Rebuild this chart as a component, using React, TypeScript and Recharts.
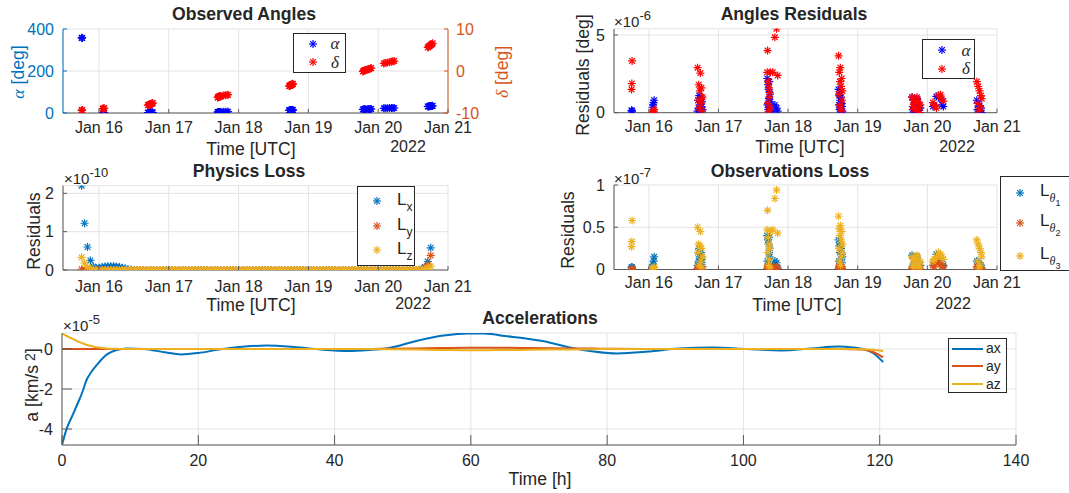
import React from "react";
import { ScatterChart, Scatter, LineChart, Line, XAxis, YAxis, CartesianGrid } from "recharts";

const BLUE = "#0072BD";
const ORANGE = "#D95319";
const YELLOW = "#EDB120";
const PURE_BLUE = "#0000FF";
const PURE_RED = "#FF0000";
const TXT = "#262626";
const AXC = "#5a5a5a";
const GRID = "#e3e3e3";
const FONT = "'Liberation Sans', Arial, Helvetica, sans-serif";
const TEX = "'Liberation Serif', 'DejaVu Serif', serif";

// time axis of the upper plots: days since 15 Jan 2022 00:00 UTC
const dayTicks = [1, 2, 3, 4, 5, 6];
const dayLabels = ["Jan 16", "Jan 17", "Jan 18", "Jan 19", "Jan 20", "Jan 21"];

// observation epochs, one block per pass
const obsTime = [
  0.752, 0.756, 0.76,
  1.055, 1.062, 1.069, 1.076,
  1.7, 1.708, 1.716, 1.724, 1.732, 1.74, 1.748, 1.756, 1.764, 1.772,
  2.7, 2.705, 2.71, 2.715, 2.72, 2.725, 2.73, 2.735, 2.74, 2.745, 2.78, 2.81, 2.835, 2.85,
  3.725, 3.73, 3.735, 3.74, 3.745, 3.75, 3.755, 3.76, 3.765, 3.77, 3.775, 3.78,
  4.78, 4.79, 4.8, 4.81, 4.82, 4.85, 4.86, 4.87, 4.89, 4.9,
  5.08, 5.1, 5.13, 5.16, 5.19, 5.21, 5.23,
  5.71, 5.72, 5.73, 5.74, 5.75, 5.76, 5.77, 5.78,
];
// observed right ascension [deg]
const obsAlpha = [
  358, 357.5, 357,
  0.2, 0.4, 0.6, 0.8,
  1.6, 1.7, 1.8, 1.9, 2.0, 2.1, 2.2, 2.3, 2.4, 2.5,
  4.5, 4.6, 4.7, 4.8, 4.8, 4.9, 5.0, 5.0, 5.1, 5.2, 5.5, 5.8, 6.0, 6.1,
  12.5, 12.7, 12.9, 13.1, 13.3, 13.5, 13.7, 13.9, 14.1, 14.3, 14.5, 14.7,
  17.0, 17.2, 17.4, 17.6, 17.8, 18.2, 18.4, 18.6, 19.0, 19.2,
  22.5, 22.8, 23.1, 23.4, 23.7, 24.0, 24.2,
  31, 31.5, 32, 32.5, 33, 33.3, 33.6, 34,
];
// observed declination [deg]
const obsDelta = [
  -9.35, -9.3, -9.3,
  -9.0, -8.95, -8.9, -8.85,
  -8.15, -8.1, -8.05, -8.0, -7.95, -7.9, -7.85, -7.8, -7.7, -7.6,
  -6.3, -6.25, -6.2, -6.15, -6.1, -6.1, -6.05, -6.0, -6.0, -5.95, -5.85, -5.75, -5.7, -5.65,
  -3.6, -3.55, -3.5, -3.45, -3.4, -3.35, -3.3, -3.25, -3.2, -3.15, -3.1, -3.05,
  -0.1, 0.0, 0.1, 0.2, 0.25, 0.35, 0.45, 0.5, 0.6, 0.7,
  1.8, 1.9, 2.0, 2.1, 2.2, 2.3, 2.4,
  5.6, 5.75, 5.9, 6.0, 6.15, 6.3, 6.45, 6.6,
];
// angle residuals [1e-6 deg]
const resAlpha = [
  0.15, 0.1, 0.12,
  0.35, 0.5, 0.65, 0.8,
  0.1, 0.8, 0.3, 1.1, 0.5, 0.05, 1.0, 0.4, 0.7, 0.2,
  2.2, 0.5, 1.8, 0.2, 1.5, 0.9, 2.0, 0.3, 1.2, 0.7, 0.1, 0.5, 0.3, 0.1,
  1.5, 0.5, 1.1, 0.2, 0.8, 1.3, 0.3, 1.0, 0, 0.6, 0.4, 0.1,
  1.0, 0.2, 0.8, 0, 0.5, 0.9, 0.1, 0.6, 0, 0.3,
  0.4, 0.45, 1.05, 1.1, 0.9, 0.5, 0.4,
  0.8, 0.2, 0.6, 0.05, 0.4, 0.1, 0.3, 0,
];
const resDelta = [
  1.5, 1.88, 3.33,
  0.0, 0.05, 0.1, 0.2,
  2.9, 0.8, 1.8, 0.3, 1.4, 2.55, 0.6, 1.6, 0.1, 1.0,
  2.6, 4.0, 0.6, 2.0, 0.05, 1.6, 1.0, 1.3, 0.3, 2.6, 2.6, 4.85, 5.4, 2.4,
  3.66, 1.2, 2.6, 0.5, 2.0, 2.9, 0.3, 1.7, 0.1, 2.2, 0.8, 1.4,
  1.0, 0.4, 0.8, 0.2, 0.6, 1.0, 0.2, 0.7, 0, 0.5,
  0.65, 0.5, 0.3, 1.1, 1.15, 0.85, 0.75,
  2.0, 0.6, 1.7, 0.1, 1.4, 0.3, 1.1, 0.9,
];
// observation loss terms [1e-7]
const lossT1 = [
  0.03, 0.02, 0.03,
  0.02, 0.06, 0.1, 0.15,
  0.05, 0.2, 0.1, 0.25, 0.15, 0.01, 0.2, 0.08, 0.12, 0.03,
  0.4, 0.1, 0.35, 0.05, 0.3, 0.2, 0.38, 0.15, 0.25, 0.02, 0.05, 0.1, 0.08, 0.02,
  0.35, 0.1, 0.28, 0.05, 0.2, 0.3, 0.02, 0.25, 0.01, 0.18, 0.08, 0.15,
  0.17, 0.04, 0.12, 0.01, 0.08, 0.15, 0.02, 0.1, 0, 0.05,
  0.05, 0.08, 0.18, 0.15, 0.1, 0.07, 0.05,
  0.1, 0.03, 0.08, 0, 0.06, 0.01, 0.05, 0.02,
];
const lossT2 = [
  0, 0, 0.01,
  0, 0, 0, 0,
  0.01, 0.02, 0.03, 0.01, 0, 0, 0.01, 0.02, 0, 0,
  0.01, 0.03, 0.05, 0.02, 0, 0.01, 0.03, 0.04, 0.02, 0, 0.01, 0.02, 0.03, 0.01,
  0.01, 0.02, 0.03, 0.05, 0.04, 0.02, 0.01, 0, 0.02, 0.03, 0.01, 0,
  0.02, 0.01, 0, 0.01, 0, 0.02, 0.01, 0, 0.01, 0,
  0.05, 0.03, 0.08, 0.1, 0.06, 0.04, 0.03,
  0.03, 0.02, 0.01, 0.02, 0.01, 0, 0.01, 0,
];
const lossT3 = [
  0.27, 0.33, 0.58,
  0, 0.01, 0.02, 0.03,
  0.5, 0.2, 0.3, 0.05, 0.28, 0.45, 0.1, 0.25, 0.02, 0.15,
  0.47, 0.7, 0.2, 0.38, 0.05, 0.3, 0.12, 0.25, 0.02, 0.45, 0.47, 0.84, 0.94, 0.43,
  0.63, 0.25, 0.48, 0.1, 0.4, 0.52, 0.05, 0.35, 0.15, 0.45, 0.2, 0.3,
  0.15, 0.05, 0.12, 0.02, 0.08, 0.17, 0.05, 0.13, 0.02, 0.09,
  0.1, 0.12, 0.15, 0.2, 0.18, 0.15, 0.12,
  0.35, 0.1, 0.3, 0.02, 0.25, 0.05, 0.2, 0.15,
];

// physics loss, hourly from the first epoch [1e-10]
const physStart = 0.752;
const physLx = [
  2.2, 1.22, 0.6, 0.25, 0.09, 0.05, 0.06, 0.08, 0.09, 0.1, 0.1, 0.1, 0.09, 0.08, 0.06, 0.04, 0.02, 0.01,
  0, 0, 0, 0, 0, 0, 0, 0, 0, 0, 0, 0, 0, 0, 0, 0, 0, 0, 0, 0,
  0, 0, 0, 0, 0, 0, 0, 0, 0, 0, 0, 0, 0, 0, 0, 0, 0, 0, 0, 0,
  0, 0, 0, 0, 0, 0, 0, 0, 0, 0, 0, 0, 0, 0, 0, 0, 0, 0, 0, 0,
  0, 0, 0, 0, 0, 0, 0, 0, 0, 0, 0, 0, 0, 0, 0, 0, 0, 0, 0, 0,
  0, 0, 0, 0, 0, 0, 0, 0, 0, 0, 0, 0, 0, 0, 0, 0, 0, 0, 0,
  0.03, 0.08, 0.22, 0.58,
];
const physLy = [
  0.02, 0.01,
  0, 0, 0, 0, 0, 0, 0, 0, 0, 0, 0, 0, 0, 0, 0, 0, 0, 0, 0, 0,
  0, 0, 0, 0, 0, 0, 0, 0, 0, 0, 0, 0, 0, 0, 0, 0, 0, 0, 0, 0,
  0, 0, 0, 0, 0, 0, 0, 0, 0, 0, 0, 0, 0, 0, 0, 0, 0, 0, 0, 0,
  0, 0, 0, 0, 0, 0, 0, 0, 0, 0, 0, 0, 0, 0, 0, 0, 0, 0, 0, 0,
  0, 0, 0, 0, 0, 0, 0, 0, 0, 0, 0, 0, 0, 0, 0, 0, 0, 0, 0, 0,
  0, 0, 0, 0, 0, 0, 0, 0, 0, 0, 0, 0, 0, 0, 0,
  0.02, 0.05, 0.15, 0.38,
];
const physLz = [
  0.33, 0.18, 0.08, 0.03, 0.01,
  0, 0, 0, 0, 0, 0, 0, 0, 0, 0, 0, 0, 0, 0, 0, 0, 0, 0, 0, 0,
  0, 0, 0, 0, 0, 0, 0, 0, 0, 0, 0, 0, 0, 0, 0, 0, 0, 0, 0, 0,
  0, 0, 0, 0, 0, 0, 0, 0, 0, 0, 0, 0, 0, 0, 0, 0, 0, 0, 0, 0,
  0, 0, 0, 0, 0, 0, 0, 0, 0, 0, 0, 0, 0, 0, 0, 0, 0, 0, 0, 0,
  0, 0, 0, 0, 0, 0, 0, 0, 0, 0, 0, 0, 0, 0, 0, 0, 0, 0, 0, 0,
  0, 0, 0, 0, 0, 0, 0, 0, 0, 0, 0, 0, 0,
  0.03, 0.06, 0.1,
];

// accelerations [1e-5 km/s^2] vs hours
const accelT = [
  0, 0.7, 1.5, 2.2, 3, 3.6, 4.3, 5.1, 6, 6.6,
  8, 9.5, 12, 15, 17.5, 20, 23, 26, 30, 34,
  38, 42, 45, 48, 52, 56, 59.5, 62, 65, 68.5,
  71.5, 74.5, 78, 81.5, 86, 90.5, 95.5, 100.5, 105.5, 110,
  114, 116, 117.5, 119, 120.5,
];
const accelX = [
  -4.8, -3.97, -3.35, -2.8, -2.15, -1.55, -1.15, -0.8, -0.45, -0.27,
  -0.05, 0.03, 0, -0.16, -0.27, -0.2, -0.03, 0.1, 0.17, 0.1,
  -0.03, -0.1, -0.05, 0.05, 0.4, 0.67, 0.78, 0.78, 0.65, 0.5,
  0.33, 0.08, -0.12, -0.22, -0.13, 0.02, 0.07, 0, -0.07, 0.03,
  0.12, 0.08, 0, -0.2, -0.65,
];
const accelY = [
  0, 0, 0, 0, 0, 0, 0, 0, 0, 0,
  0, 0, 0, 0, 0, 0, 0, 0, 0, 0,
  0, 0, 0, 0.01, 0.03, 0.05, 0.06, 0.06, 0.06, 0.05,
  0.04, 0.03, 0.02, 0.01, 0, 0, 0, 0, 0, 0,
  0, -0.01, -0.03, -0.15, -0.42,
];
const accelZ = [
  0.78, 0.65, 0.52, 0.4, 0.29, 0.21, 0.15, 0.09, 0.05, 0.03,
  0.01, 0, 0, 0, 0, 0, 0, 0, 0, 0,
  0, 0, 0, -0.01, -0.03, -0.05, -0.06, -0.06, -0.05, -0.04,
  -0.03, -0.02, -0.01, 0, 0, 0, 0, 0, 0, 0,
  0, 0, -0.01, -0.04, -0.1,
];
const hourTicks = [0, 20, 40, 60, 80, 100, 120, 140];

const pts = (xs: number[], ys: number[]) => xs.map((t, i) => ({ t, v: ys[i] }));
const physTime = physLx.map((_, h) => physStart + h / 24);
const accelData = accelT.map((t, i) => ({ t, ax: accelX[i], ay: accelY[i], az: accelZ[i] }));

// MATLAB style '*' marker
const Star = ({ cx, cy, color, r = 4 }: { cx: number; cy: number; color: string; r?: number }) => {
  const d = r * 0.7071;
  return (
    <g stroke={color} strokeWidth={1.2} fill="none">
      <line x1={cx - r} y1={cy} x2={cx + r} y2={cy} />
      <line x1={cx} y1={cy - r} x2={cx} y2={cy + r} />
      <line x1={cx - d} y1={cy - d} x2={cx + d} y2={cy + d} />
      <line x1={cx - d} y1={cy + d} x2={cx + d} y2={cy - d} />
    </g>
  );
};
const starShape = (color: string) => (p: any) => <Star cx={p.cx} cy={p.cy} color={color} />;

const dayFmt = (v: number) => dayLabels[dayTicks.indexOf(v)] ?? "";

// inward tick marks, like MATLAB
const xTick = (fmt: (v: number) => string, off: number, len: number) => (p: any) => (
  <g>
    <line x1={p.x} y1={p.y} x2={p.x} y2={p.y - len} stroke={AXC} />
    <text x={p.x} y={p.y + off} dy="0.35em" textAnchor="middle" fill={TXT} fontSize={16} fontFamily={FONT}>
      {fmt(p.payload.value)}
    </text>
  </g>
);
const yTickL = (color: string, len: number, lineColor = AXC) => (p: any) => (
  <g>
    <line x1={p.x} y1={p.y} x2={p.x + len} y2={p.y} stroke={lineColor} />
    <text x={p.x - 9} y={p.y} dy="0.35em" textAnchor="end" fill={color} fontSize={16} fontFamily={FONT}>
      {String(p.payload.value)}
    </text>
  </g>
);
const yTickR = (color: string, len: number) => (p: any) => (
  <g>
    <line x1={p.x} y1={p.y} x2={p.x - len} y2={p.y} stroke={color} />
    <text x={p.x + 8} y={p.y} dy="0.35em" textAnchor="start" fill={color} fontSize={16} fontFamily={FONT}>
      {String(p.payload.value)}
    </text>
  </g>
);

type TP = { x: number; y: number; rot?: number; size?: number; bold?: boolean; color?: string; left?: boolean; children: React.ReactNode };
const T = ({ x, y, rot = 0, size = 17.6, bold = false, color = TXT, left = false, children }: TP) => (
  <div
    style={{
      position: "absolute",
      left: x,
      top: y,
      transform: `translate(${left ? 0 : -50}%, -50%) rotate(${rot}deg)`,
      fontSize: size,
      fontWeight: bold ? 700 : 400,
      color,
      whiteSpace: "nowrap",
      lineHeight: 1,
    }}
  >
    {children}
  </div>
);

const Exp = ({ x, y, e }: { x: number; y: number; e: string }) => (
  <T x={x} y={y} size={15} left>
    ×10<span style={{ fontSize: 13, position: "relative", top: -7 }}>{e}</span>
  </T>
);

const Box = ({ l, t, w, h }: { l: number; t: number; w: number; h: number }) => (
  <div style={{ position: "absolute", left: l, top: t, width: w, height: h, border: `1px solid ${TXT}`, background: "#fff", boxSizing: "border-box" }} />
);
const LStar = ({ x, y, color }: { x: number; y: number; color: string }) => (
  <svg style={{ position: "absolute", left: x - 6, top: y - 6 }} width={12} height={12}>
    <Star cx={6} cy={6} color={color} />
  </svg>
);
const LLine = ({ x, y, w, color }: { x: number; y: number; w: number; color: string }) => (
  <svg style={{ position: "absolute", left: x, top: y - 2 }} width={w} height={4}>
    <line x1={0} y1={2} x2={w} y2={2} stroke={color} strokeWidth={2} />
  </svg>
);

const greek = (s: string) => <span style={{ fontFamily: TEX, fontStyle: "italic" }}>{s}</span>;
const sub = (s: React.ReactNode) => <span style={{ fontSize: 12, position: "relative", top: 6 }}>{s}</span>;

const axisLine = { stroke: AXC };
const xCommon = {
  dataKey: "t",
  type: "number" as const,
  ticks: dayTicks,
  interval: 0 as const,
  allowDataOverflow: true,
  tickSize: 0,
  tickMargin: 0,
  tickLine: false,
  axisLine,
};

export default function App() {
  return (
    <div
      style={{
        position: "absolute",
        left: 0,
        top: 0,
        width: 1069,
        height: 493,
        background: "#fff",
        overflow: "hidden",
        fontFamily: FONT,
        color: TXT,
      }}
    >
      {/* Observed Angles */}
      <div style={{ position: "absolute", left: 0, top: 0 }}>
        <ScatterChart width={520} height={160} margin={{ top: 29, right: 0, bottom: 0, left: 0 }}>
          <CartesianGrid stroke={GRID} yAxisId="a" />
          <XAxis {...xCommon} domain={[0.485, 6]} height={47} tick={xTick(dayFmt, 14, 4)} />
          <YAxis yAxisId="a" dataKey="v" type="number" domain={[0, 400]} ticks={[0, 200, 400]} interval={0} width={63}
            tickSize={0} tickMargin={0} tickLine={false} axisLine={{ stroke: BLUE }} tick={yTickL(BLUE, 4, BLUE)} allowDataOverflow />
          <YAxis yAxisId="d" orientation="right" dataKey="v" type="number" domain={[-10, 10]} ticks={[-10, 0, 10]} interval={0} width={72}
            tickSize={0} tickMargin={0} tickLine={false} axisLine={{ stroke: ORANGE }} tick={yTickR(ORANGE, 4)} allowDataOverflow />
          <Scatter yAxisId="a" data={pts(obsTime, obsAlpha)} fill={PURE_BLUE} shape={starShape(PURE_BLUE)} isAnimationActive={false} />
          <Scatter yAxisId="d" data={pts(obsTime, obsDelta)} fill={PURE_RED} shape={starShape(PURE_RED)} isAnimationActive={false} />
        </ScatterChart>
      </div>

      {/* Angles Residuals */}
      <div style={{ position: "absolute", left: 540, top: 0 }}>
        <ScatterChart width={500} height={160} margin={{ top: 28.8, right: 43, bottom: 0, left: 0 }}>
          <CartesianGrid stroke={GRID} />
          <XAxis {...xCommon} domain={[0.5, 6]} height={47.3} tick={xTick(dayFmt, 14, 4)} />
          <YAxis dataKey="v" type="number" domain={[0, 5.4]} ticks={[0, 5]} interval={0} width={74}
            tickSize={0} tickMargin={0} tickLine={false} axisLine={axisLine} tick={yTickL(TXT, 4)} allowDataOverflow />
          <Scatter data={pts(obsTime, resAlpha)} fill={PURE_BLUE} shape={starShape(PURE_BLUE)} isAnimationActive={false} />
          <Scatter data={pts(obsTime, resDelta)} fill={PURE_RED} shape={starShape(PURE_RED)} isAnimationActive={false} />
        </ScatterChart>
      </div>

      {/* Physics Loss */}
      <div style={{ position: "absolute", left: 0, top: 160 }}>
        <ScatterChart width={520} height={150} margin={{ top: 25.7, right: 72, bottom: 0, left: 0 }}>
          <CartesianGrid stroke={GRID} />
          <XAxis {...xCommon} domain={[0.485, 6]} height={40} tick={xTick(dayFmt, 16, 4)} />
          <YAxis dataKey="v" type="number" domain={[0, 2.2]} ticks={[0, 1, 2]} interval={0} width={63}
            tickSize={0} tickMargin={0} tickLine={false} axisLine={axisLine} tick={yTickL(TXT, 4)} allowDataOverflow />
          <Scatter data={pts(physTime, physLx)} fill={BLUE} shape={starShape(BLUE)} isAnimationActive={false} />
          <Scatter data={pts(physTime, physLy)} fill={ORANGE} shape={starShape(ORANGE)} isAnimationActive={false} />
          <Scatter data={pts(physTime, physLz)} fill={YELLOW} shape={starShape(YELLOW)} isAnimationActive={false} />
        </ScatterChart>
      </div>

      {/* Observations Loss */}
      <div style={{ position: "absolute", left: 540, top: 160 }}>
        <ScatterChart width={529} height={150} margin={{ top: 25, right: 72, bottom: 0, left: 0 }}>
          <CartesianGrid stroke={GRID} />
          <XAxis {...xCommon} domain={[0.5, 6]} height={40.5} tick={xTick(dayFmt, 13, 4)} />
          <YAxis dataKey="v" type="number" domain={[0, 1]} ticks={[0, 0.5, 1]} interval={0} width={74}
            tickSize={0} tickMargin={0} tickLine={false} axisLine={axisLine} tick={yTickL(TXT, 4)} allowDataOverflow />
          <Scatter data={pts(obsTime, lossT1)} fill={BLUE} shape={starShape(BLUE)} isAnimationActive={false} />
          <Scatter data={pts(obsTime, lossT2)} fill={ORANGE} shape={starShape(ORANGE)} isAnimationActive={false} />
          <Scatter data={pts(obsTime, lossT3)} fill={YELLOW} shape={starShape(YELLOW)} isAnimationActive={false} />
        </ScatterChart>
      </div>

      {/* Accelerations */}
      <div style={{ position: "absolute", left: 0, top: 305 }}>
        <LineChart width={1069} height={188} data={accelData} margin={{ top: 28, right: 53, bottom: 0, left: 0 }}>
          <CartesianGrid stroke={GRID} />
          <XAxis dataKey="t" type="number" domain={[0, 140]} ticks={hourTicks} interval={0} height={48} allowDataOverflow
            tickSize={0} tickMargin={0} tickLine={false} axisLine={axisLine} tick={xTick(String, 15, 10)} />
          <YAxis type="number" domain={[-4.8, 0.8]} ticks={[-4, -2, 0]} interval={0} width={62} allowDataOverflow
            tickSize={0} tickMargin={0} tickLine={false} axisLine={axisLine} tick={yTickL(TXT, 10)} />
          <Line dataKey="ax" type="monotone" stroke={BLUE} strokeWidth={2} dot={false} isAnimationActive={false} />
          <Line dataKey="ay" type="monotone" stroke={ORANGE} strokeWidth={2} dot={false} isAnimationActive={false} />
          <Line dataKey="az" type="monotone" stroke={YELLOW} strokeWidth={2} dot={false} isAnimationActive={false} />
        </LineChart>
      </div>

      {/* titles */}
      <T x={244} y={15} bold>Observed Angles</T>
      <T x={794} y={15} bold>Angles Residuals</T>
      <T x={249} y={172} bold>Physics Loss</T>
      <T x={790} y={172} bold>Observations Loss</T>
      <T x={540} y={319} bold>Accelerations</T>

      {/* axis labels */}
      <T x={251} y={150}>Time [UTC]</T>
      <T x={408} y={147} size={16}>2022</T>
      <T x={800} y={148}>Time [UTC]</T>
      <T x={957} y={147} size={16}>2022</T>
      <T x={251} y={306}>Time [UTC]</T>
      <T x={413} y={304} size={16}>2022</T>
      <T x={797} y={306}>Time [UTC]</T>
      <T x={953} y={304} size={16}>2022</T>
      <T x={540} y={480}>Time [h]</T>

      <T x={19} y={72} rot={-90} color={BLUE}>{greek("α")} [deg]</T>
      <T x={503} y={72} rot={-90} color={ORANGE}>{greek("δ")} [deg]</T>
      <T x={584} y={75} rot={-90}>Residuals [deg]</T>
      <T x={35} y={231} rot={-90}>Residuals</T>
      <T x={569} y={230} rot={-90}>Residuals</T>
      <T x={33} y={385} rot={-90}>
        a [km/s<span style={{ fontSize: 14, position: "relative", top: -3 }}> 2</span>]
      </T>

      {/* exponent labels */}
      <Exp x={614} y={21} e="-6" />
      <Exp x={64} y={178} e="-10" />
      <Exp x={614} y={178} e="-7" />
      <Exp x={63} y={325} e="-5" />

      {/* legends */}
      <Box l={293} t={33} w={53} h={40} />
      <LStar x={313} y={43.5} color={PURE_BLUE} />
      <LStar x={313} y={62} color={PURE_RED} />
      <T x={335} y={43} size={17}>{greek("α")}</T>
      <T x={335} y={62} size={17}>{greek("δ")}</T>

      <Box l={922} t={39} w={53} h={40} />
      <LStar x={942} y={50} color={PURE_BLUE} />
      <LStar x={942} y={68.5} color={PURE_RED} />
      <T x={966} y={49.5} size={17}>{greek("α")}</T>
      <T x={966} y={68} size={17}>{greek("δ")}</T>

      <Box l={357} t={186} w={58} h={80} />
      <LStar x={377} y={201} color={BLUE} />
      <LStar x={377} y={226} color={ORANGE} />
      <LStar x={377} y={250} color={YELLOW} />
      <T x={397} y={199} size={17} left>L{sub("x")}</T>
      <T x={397} y={224} size={17} left>L{sub("y")}</T>
      <T x={397} y={248} size={17} left>L{sub("z")}</T>

      <Box l={1000} t={176} w={80} h={95} />
      <LStar x={1020} y={193} color={BLUE} />
      <LStar x={1020} y={223} color={ORANGE} />
      <LStar x={1020} y={256} color={YELLOW} />
      <T x={1040} y={190} size={17} left>L{sub(<>{greek("θ")}<span style={{ fontSize: 9, position: "relative", top: 4 }}>1</span></>)}</T>
      <T x={1040} y={220} size={17} left>L{sub(<>{greek("θ")}<span style={{ fontSize: 9, position: "relative", top: 4 }}>2</span></>)}</T>
      <T x={1040} y={253} size={17} left>L{sub(<>{greek("θ")}<span style={{ fontSize: 9, position: "relative", top: 4 }}>3</span></>)}</T>

      <Box l={948} t={338} w={59} h={55} />
      <LLine x={952} y={348.5} w={31} color={BLUE} />
      <LLine x={952} y={366} w={31} color={ORANGE} />
      <LLine x={952} y={384} w={31} color={YELLOW} />
      <T x={986} y={348} size={14} left>ax</T>
      <T x={986} y={366} size={14} left>ay</T>
      <T x={986} y={384} size={14} left>az</T>
    </div>
  );
}
